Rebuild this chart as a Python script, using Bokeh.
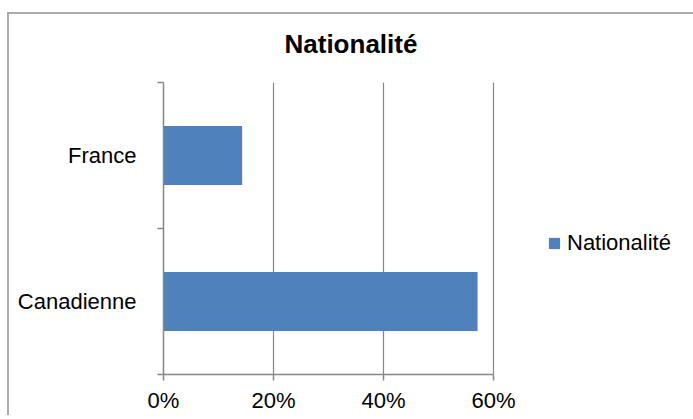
from bokeh.plotting import figure
from bokeh.models import (Range1d, FixedTicker, PrintfTickFormatter, Legend, LegendItem,
                          ColumnDataSource)
from bokeh.embed import file_html
from bokeh.resources import INLINE

# data
categories = ["Canadienne", "France"]
values = [57.1, 14.3]
series_name = "Nationalité"
x_ticks = [0, 20, 40, 60]

FONT = "Liberation Sans"
AXIS_GREY = "#868686"
BAR_BLUE = "#4f81bd"
BORDER_GREY = "#ababab"

ypos = [i + 0.5 for i in range(len(categories))]
src = ColumnDataSource(dict(y=ypos, v=values, cat=categories))

W, H = 693, 415
LEFT, TOP, BOTTOM = 163, 82, 40
PX_PER_UNIT = 330 / 60.0
x_end = (W - LEFT) / PX_PER_UNIT   # frame runs to the right edge; axis bounded to 0..60

p = figure(width=W, height=H, output_backend="svg", toolbar_location=None,
           x_range=Range1d(0, x_end), y_range=Range1d(0, len(categories)),
           min_border_left=LEFT, min_border_right=0, min_border_top=TOP,
           min_border_bottom=BOTTOM)
p.outline_line_color = None
p.background_fill_color = "white"
p.border_fill_alpha = 0
# outer chart border (top and left edges), drawn behind the transparent canvas
p.styles = {
    "background-color": "white",
    "background-image": f"linear-gradient({BORDER_GREY}, {BORDER_GREY}), "
                        f"linear-gradient({BORDER_GREY}, {BORDER_GREY})",
    "background-size": "2px 100%, 100% 2px",
    "background-position": "7px 12px, 7px 12px",
    "background-repeat": "no-repeat",
}

r = p.hbar(y="y", right="v", left=0, height=0.405, source=src,
           fill_color=BAR_BLUE, line_color=None)

# x axis
xa = p.xaxis[0]
xa.bounds = (x_ticks[0], x_ticks[-1])
xa.ticker = FixedTicker(ticks=x_ticks, minor_ticks=[])
xa.formatter = PrintfTickFormatter(format="%d%%")
xa.axis_line_color = AXIS_GREY
xa.axis_line_width = 1.5
xa.major_tick_line_color = AXIS_GREY
xa.major_tick_line_width = 1.5
xa.major_tick_in = 0
xa.major_tick_out = 6
xa.minor_tick_line_color = None
xa.major_label_text_font = FONT
xa.major_label_text_font_size = "22px"
xa.major_label_text_color = "black"
xa.major_label_standoff = 7

# y axis: labels at category centres, ticks at category boundaries
ya = p.yaxis[0]
ya.ticker = FixedTicker(ticks=ypos, minor_ticks=list(range(len(categories) + 1)))
ya.major_label_overrides = {y: c for y, c in zip(ypos, categories)}
ya.axis_line_color = AXIS_GREY
ya.axis_line_width = 1.5
ya.major_tick_line_color = None
ya.minor_tick_line_color = AXIS_GREY
ya.minor_tick_line_width = 1.5
ya.minor_tick_in = 0
ya.minor_tick_out = 6
ya.major_label_text_font = FONT
ya.major_label_text_font_size = "22px"
ya.major_label_text_color = "black"
ya.major_label_standoff = 21

p.xgrid.ticker = FixedTicker(ticks=x_ticks[1:])
p.xgrid.grid_line_color = AXIS_GREY
p.xgrid.grid_line_width = 1.2
p.ygrid.grid_line_color = None

# title
p.title.text = series_name
p.title.text_font = FONT
p.title.text_font_size = "26px"
p.title.text_font_style = "bold"
p.title.text_color = "black"
p.title.align = "left"
p.title.offset = 121
p.title.standoff = 48

# legend
legend = Legend(items=[LegendItem(label=series_name, renderers=[r])],
                location=(384, 118), orientation="vertical")
legend.label_text_font = FONT
legend.label_text_font_size = "22px"
legend.label_text_color = "black"
legend.glyph_width = 14
legend.glyph_height = 14
legend.label_standoff = 6
legend.padding = 0
legend.margin = 0
legend.spacing = 0
legend.border_line_color = None
legend.background_fill_alpha = 0
p.add_layout(legend, "center")

open("out.html", "w").write(file_html(p, INLINE))
